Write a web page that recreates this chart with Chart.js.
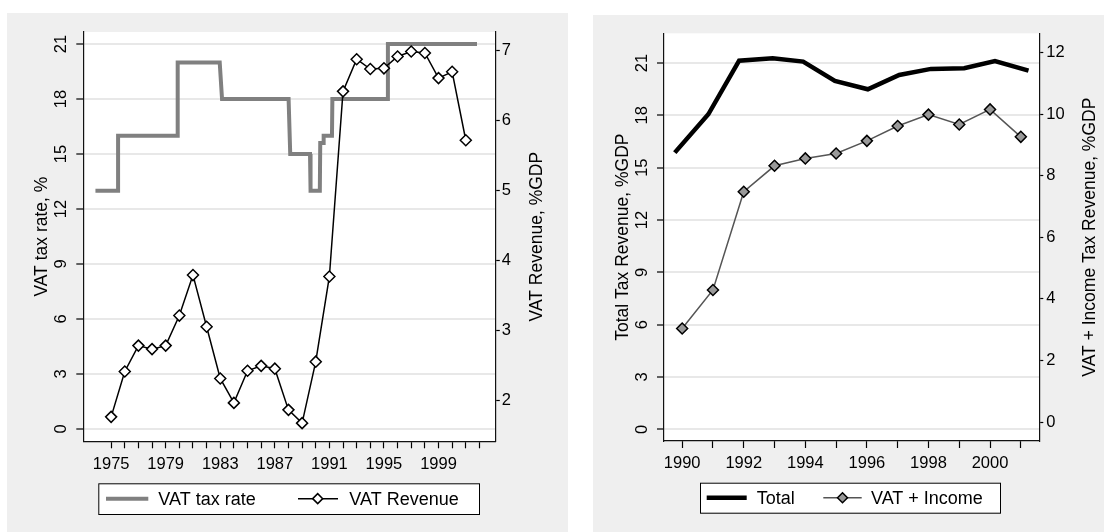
<!DOCTYPE html>
<html>
<head>
<meta charset="UTF-8">
<title>VAT tax rate and revenue</title>
<script src="https://cdn.jsdelivr.net/npm/chart.js@4.4.1/dist/chart.umd.min.js"></script>
<style>
  body { margin: 0; background: #fff; width: 1104px; height: 532px; position: relative; overflow: hidden; }
  canvas { position: absolute; background: #efefef; }
  #left { left: 7px; top: 13px; }
  #right { left: 593px; top: 15px; }
</style>
</head>
<body>
<canvas id="left" width="561" height="519"></canvas>
<canvas id="right" width="511" height="517"></canvas>
<script>
// ---- left panel data ----
// VAT tax rate, %  (step series, x = fractional year)
const rateYears  = [1973.85, 1975.51, 1975.51, 1979.88, 1979.88, 1982.96, 1983.13, 1988.01, 1988.13,
                    1989.58, 1989.62, 1990.30, 1990.33, 1990.56, 1990.58, 1991.19, 1991.22, 1995.27, 1995.29, 2001.82];
const rateValues = [13, 13, 16, 16, 20, 20, 18, 18, 15, 15, 13, 13, 15.6, 15.6, 16, 16, 18, 18, 21, 21];
// VAT Revenue, %GDP
const revenueYears  = [1975, 1976, 1977, 1978, 1979, 1980, 1981, 1982, 1983, 1984, 1985, 1986, 1987, 1988,
                       1989, 1990, 1991, 1992, 1993, 1994, 1995, 1996, 1997, 1998, 1999, 2000, 2001];
const revenueValues = [1.76, 2.41, 2.78, 2.73, 2.78, 3.21, 3.79, 3.05, 2.31, 1.96, 2.42, 2.49, 2.45, 1.86,
                       1.67, 2.55, 3.77, 6.42, 6.88, 6.74, 6.75, 6.92, 6.99, 6.97, 6.61, 6.70, 5.72];
const leftXTicks   = [1975, 1976, 1977, 1978, 1979, 1980, 1981, 1982, 1983, 1984, 1985, 1986, 1987, 1988,
                      1989, 1990, 1991, 1992, 1993, 1994, 1995, 1996, 1997, 1998, 1999, 2000, 2001, 2002];
const leftXLabels  = [1975, 1979, 1983, 1987, 1991, 1995, 1999];
const rateTicks    = [0, 3, 6, 9, 12, 15, 18, 21];
const revenueTicks = [2, 3, 4, 5, 6, 7];

// ---- right panel data ----
const totalYears  = [1989.76, 1990.85, 1991.85, 1992.94, 1993.93, 1994.96, 1996.03, 1997.05, 1998.08, 1999.16, 2000.16, 2001.25];
const totalValues = [15.86, 18.06, 21.13, 21.27, 21.08, 19.97, 19.49, 20.31, 20.66, 20.70, 21.11, 20.56];
const incomeYears  = [1990, 1991, 1992, 1993, 1994, 1995, 1996, 1997, 1998, 1999, 2000, 2001];
const incomeValues = [3.04, 4.29, 7.48, 8.32, 8.56, 8.72, 9.13, 9.61, 9.98, 9.66, 10.15, 9.26];
const rightXTicks  = [1990, 1991, 1992, 1993, 1994, 1995, 1996, 1997, 1998, 1999, 2000, 2001];
const rightXLabels = [1990, 1992, 1994, 1996, 1998, 2000];
const totalTicks   = [0, 3, 6, 9, 12, 15, 18, 21];
const incomeTicks  = [0, 2, 4, 6, 8, 10, 12];

Chart.defaults.font.family = '"Liberation Sans", Arial, sans-serif';
Chart.defaults.font.size = 16.5;
Chart.defaults.color = '#000';

function pairs(xs, ys) { return xs.map((x, i) => ({ x: x, y: ys[i] })); }
function fixed(size) {
  return function (scale) { if (scale.isHorizontal()) scale.height = size; else scale.width = size; };
}
function setTicks(values) {
  return function (scale) { scale.ticks = values.map(v => ({ value: v })); };
}

// white plot region
const plotBg = {
  id: 'plotBg',
  beforeDraw(chart) {
    const a = chart.chartArea, ctx = chart.ctx;
    ctx.save();
    ctx.fillStyle = '#fff';
    ctx.fillRect(a.left, a.top, a.right - a.left, a.bottom - a.top);
    ctx.restore();
  }
};

// right-hand axis title, read bottom to top
const rightTitle = {
  id: 'rightTitle',
  afterDraw(chart, args, opts) {
    const a = chart.chartArea, ctx = chart.ctx;
    ctx.save();
    ctx.translate(opts.x, (a.top + a.bottom) / 2);
    ctx.rotate(-Math.PI / 2);
    ctx.font = '17.5px "Liberation Sans", Arial, sans-serif';
    ctx.fillStyle = '#000';
    ctx.textAlign = 'center';
    ctx.textBaseline = 'middle';
    ctx.fillText(opts.text, 0, 0);
    ctx.restore();
  }
};

// boxed legend, stata style
const boxLegend = {
  id: 'boxLegend',
  afterDraw(chart, args, opts) {
    const ctx = chart.ctx, b = opts.box;
    const cy = b[1] + b[3] / 2;
    ctx.save();
    ctx.fillStyle = '#fff';
    ctx.fillRect(b[0], b[1], b[2], b[3]);
    ctx.strokeStyle = '#000';
    ctx.lineWidth = 1;
    ctx.strokeRect(b[0] + 0.5, b[1] + 0.5, b[2], b[3]);
    opts.items.forEach(it => {
      const ds = chart.data.datasets[it.index];
      ctx.strokeStyle = ds.borderColor;
      ctx.lineWidth = ds.borderWidth;
      ctx.beginPath();
      ctx.moveTo(it.from, cy);
      ctx.lineTo(it.to, cy);
      ctx.stroke();
      if (it.marker) {
        ctx.fillStyle = ds.pointBackgroundColor;
        ctx.strokeStyle = ds.pointBorderColor;
        ctx.lineWidth = ds.pointBorderWidth;
        Chart.helpers.drawPoint(ctx, { pointStyle: 'rectRot', radius: 5, borderWidth: ds.pointBorderWidth }, it.marker, cy);
      }
      ctx.fillStyle = '#000';
      ctx.font = '18px "Liberation Sans", Arial, sans-serif';
      ctx.textAlign = 'left';
      ctx.textBaseline = 'middle';
      ctx.fillText(ds.label, it.textX, cy + 1);
    });
    ctx.restore();
  }
};

const axisLine = { color: '#111', width: 1.2 };
const gridY = { color: '#e8e8e8', lineWidth: 2, tickColor: '#000', tickLength: 7, tickWidth: 1.2 };

// ---- left chart ----
new Chart(document.getElementById('left'), {
  type: 'line',
  data: {
    datasets: [
      { label: 'VAT Revenue', data: pairs(revenueYears, revenueValues), yAxisID: 'y2', order: 0,
        borderColor: '#000', borderWidth: 1.5, pointStyle: 'rectRot', pointRadius: 5.5,
        pointBackgroundColor: '#fff', pointBorderColor: '#000', pointBorderWidth: 1.5 },
      { label: 'VAT tax rate', data: pairs(rateYears, rateValues), yAxisID: 'y', order: 1,
        borderColor: '#808080', borderWidth: 4, pointRadius: 0 }
    ]
  },
  options: {
    responsive: false, animation: false, events: [],
    layout: { padding: { top: 19, bottom: 50.7, left: 0, right: 0 } },
    plugins: {
      legend: { display: false }, tooltip: { enabled: false },
      rightTitle: { text: 'VAT Revenue, %GDP', x: 530 },
      boxLegend: { box: [91.3, 470.3, 380.7, 30.7], items: [
        { index: 1, from: 99, to: 141.3, textX: 151.3 },
        { index: 0, from: 291, to: 331, marker: 310.7, textX: 342.3 }
      ] }
    },
    scales: {
      x: { type: 'linear', min: 1972.96, max: 2003.2,
        afterBuildTicks: setTicks(leftXTicks), afterFit: fixed(40),
        grid: { drawOnChartArea: false, tickLength: 7, tickColor: '#000', tickWidth: 1.2 },
        border: axisLine,
        ticks: { autoSkip: false, maxRotation: 0, padding: 6.3,
          callback: v => leftXLabels.includes(v) ? String(v) : '' } },
      y: { position: 'left', min: -0.68, max: 21.66,
        afterBuildTicks: setTicks(rateTicks), afterFit: fixed(76.3),
        grid: gridY, border: axisLine,
        ticks: { minRotation: 90, maxRotation: 90, crossAlign: 'center', padding: 5.5 },
        title: { display: true, text: 'VAT tax rate, %', font: { size: 17.5 }, padding: { top: 24.3, bottom: 0 } } },
      y2: { position: 'right', min: 1.41, max: 7.27,
        afterBuildTicks: setTicks(revenueTicks), afterFit: fixed(72.2),
        grid: { drawOnChartArea: false, tickColor: '#000', tickLength: 4, tickWidth: 1.2 },
        border: axisLine, ticks: { padding: 2 } }
    }
  },
  plugins: [plotBg, boxLegend, rightTitle]
});

// ---- right chart ----
new Chart(document.getElementById('right'), {
  type: 'line',
  data: {
    datasets: [
      { label: 'Total', data: pairs(totalYears, totalValues), yAxisID: 'y',
        borderColor: '#000', borderWidth: 4.5, pointRadius: 0 },
      { label: 'VAT + Income', data: pairs(incomeYears, incomeValues), yAxisID: 'y2',
        borderColor: '#555', borderWidth: 1.5, pointStyle: 'rectRot', pointRadius: 5.5,
        pointBackgroundColor: '#999', pointBorderColor: '#000', pointBorderWidth: 1.5 }
    ]
  },
  options: {
    responsive: false, animation: false, events: [],
    layout: { padding: { top: 18.3, bottom: 51, left: 0, right: 0 } },
    plugins: {
      legend: { display: false }, tooltip: { enabled: false },
      rightTitle: { text: 'VAT + Income Tax Revenue, %GDP', x: 497 },
      boxLegend: { box: [107, 467.7, 300, 30], items: [
        { index: 0, from: 113.7, to: 153.7, textX: 163.7 },
        { index: 1, from: 230.3, to: 268.7, marker: 249.5, textX: 278 }
      ] }
    },
    scales: {
      x: { type: 'linear', min: 1989.41, max: 2001.6,
        afterBuildTicks: setTicks(rightXTicks), afterFit: fixed(40),
        grid: { drawOnChartArea: false, tickLength: 7, tickColor: '#000', tickWidth: 1.2 },
        border: axisLine,
        ticks: { autoSkip: false, maxRotation: 0, padding: 5.1,
          callback: v => rightXLabels.includes(v) ? String(v) : '' } },
      y: { position: 'left', min: -0.67, max: 22.70,
        afterBuildTicks: setTicks(totalTicks), afterFit: fixed(71),
        grid: gridY, border: axisLine,
        ticks: { minRotation: 90, maxRotation: 90, crossAlign: 'center', padding: 5 },
        title: { display: true, text: 'Total Tax Revenue, %GDP', font: { size: 17.5 }, padding: { top: 19.3, bottom: 0 } } },
      y2: { position: 'right', min: -0.61, max: 12.62,
        afterBuildTicks: setTicks(incomeTicks), afterFit: fixed(64.7),
        grid: { drawOnChartArea: false, tickColor: '#000', tickLength: 4, tickWidth: 1.2 },
        border: axisLine, ticks: { padding: 3 } }
    }
  },
  plugins: [plotBg, boxLegend, rightTitle]
});
</script>
</body>
</html>
